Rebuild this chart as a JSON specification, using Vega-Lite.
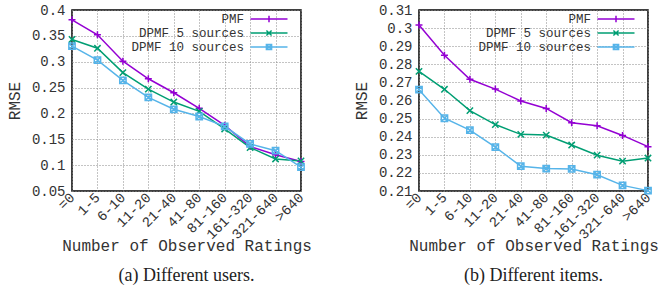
{
  "$schema": "https://vega.github.io/schema/vega-lite/v6.json",
  "padding": {"left": 5, "top": 2, "right": 5, "bottom": 0},
  "background": "white",
  "datasets": {
    "users": [
      {"bin": "=0", "method": "PMF", "rmse": 0.381},
      {"bin": "1-5", "method": "PMF", "rmse": 0.352},
      {"bin": "6-10", "method": "PMF", "rmse": 0.301},
      {"bin": "11-20", "method": "PMF", "rmse": 0.267},
      {"bin": "21-40", "method": "PMF", "rmse": 0.240},
      {"bin": "41-80", "method": "PMF", "rmse": 0.210},
      {"bin": "81-160", "method": "PMF", "rmse": 0.177},
      {"bin": "161-320", "method": "PMF", "rmse": 0.136},
      {"bin": "321-640", "method": "PMF", "rmse": 0.120},
      {"bin": ">640", "method": "PMF", "rmse": 0.107},
      {"bin": "=0", "method": "DPMF 5 sources", "rmse": 0.343},
      {"bin": "1-5", "method": "DPMF 5 sources", "rmse": 0.326},
      {"bin": "6-10", "method": "DPMF 5 sources", "rmse": 0.279},
      {"bin": "11-20", "method": "DPMF 5 sources", "rmse": 0.247},
      {"bin": "21-40", "method": "DPMF 5 sources", "rmse": 0.222},
      {"bin": "41-80", "method": "DPMF 5 sources", "rmse": 0.204},
      {"bin": "81-160", "method": "DPMF 5 sources", "rmse": 0.170},
      {"bin": "161-320", "method": "DPMF 5 sources", "rmse": 0.134},
      {"bin": "321-640", "method": "DPMF 5 sources", "rmse": 0.112},
      {"bin": ">640", "method": "DPMF 5 sources", "rmse": 0.108},
      {"bin": "=0", "method": "DPMF 10 sources", "rmse": 0.330},
      {"bin": "1-5", "method": "DPMF 10 sources", "rmse": 0.303},
      {"bin": "6-10", "method": "DPMF 10 sources", "rmse": 0.264},
      {"bin": "11-20", "method": "DPMF 10 sources", "rmse": 0.231},
      {"bin": "21-40", "method": "DPMF 10 sources", "rmse": 0.208},
      {"bin": "41-80", "method": "DPMF 10 sources", "rmse": 0.194},
      {"bin": "81-160", "method": "DPMF 10 sources", "rmse": 0.175},
      {"bin": "161-320", "method": "DPMF 10 sources", "rmse": 0.141},
      {"bin": "321-640", "method": "DPMF 10 sources", "rmse": 0.128},
      {"bin": ">640", "method": "DPMF 10 sources", "rmse": 0.096}
    ],
    "items": [
      {"bin": "=0", "method": "PMF", "rmse": 0.3017},
      {"bin": "1-5", "method": "PMF", "rmse": 0.2850},
      {"bin": "6-10", "method": "PMF", "rmse": 0.2717},
      {"bin": "11-20", "method": "PMF", "rmse": 0.2663},
      {"bin": "21-40", "method": "PMF", "rmse": 0.2597},
      {"bin": "41-80", "method": "PMF", "rmse": 0.2556},
      {"bin": "81-160", "method": "PMF", "rmse": 0.2477},
      {"bin": "161-320", "method": "PMF", "rmse": 0.2460},
      {"bin": "321-640", "method": "PMF", "rmse": 0.2407},
      {"bin": ">640", "method": "PMF", "rmse": 0.2345},
      {"bin": "=0", "method": "DPMF 5 sources", "rmse": 0.2761},
      {"bin": "1-5", "method": "DPMF 5 sources", "rmse": 0.2662},
      {"bin": "6-10", "method": "DPMF 5 sources", "rmse": 0.2544},
      {"bin": "11-20", "method": "DPMF 5 sources", "rmse": 0.2467},
      {"bin": "21-40", "method": "DPMF 5 sources", "rmse": 0.2413},
      {"bin": "41-80", "method": "DPMF 5 sources", "rmse": 0.2409},
      {"bin": "81-160", "method": "DPMF 5 sources", "rmse": 0.2354},
      {"bin": "161-320", "method": "DPMF 5 sources", "rmse": 0.2298},
      {"bin": "321-640", "method": "DPMF 5 sources", "rmse": 0.2265},
      {"bin": ">640", "method": "DPMF 5 sources", "rmse": 0.2282},
      {"bin": "=0", "method": "DPMF 10 sources", "rmse": 0.2660},
      {"bin": "1-5", "method": "DPMF 10 sources", "rmse": 0.2502},
      {"bin": "6-10", "method": "DPMF 10 sources", "rmse": 0.2436},
      {"bin": "11-20", "method": "DPMF 10 sources", "rmse": 0.2342},
      {"bin": "21-40", "method": "DPMF 10 sources", "rmse": 0.2237},
      {"bin": "41-80", "method": "DPMF 10 sources", "rmse": 0.2224},
      {"bin": "81-160", "method": "DPMF 10 sources", "rmse": 0.2222},
      {"bin": "161-320", "method": "DPMF 10 sources", "rmse": 0.2190},
      {"bin": "321-640", "method": "DPMF 10 sources", "rmse": 0.2131},
      {"bin": ">640", "method": "DPMF 10 sources", "rmse": 0.2102}
    ]
  },
  "config": {
    "view": {"stroke": "black", "strokeWidth": 1.5},
    "font": "Liberation Mono",
    "axis": {
      "labelFont": "Liberation Mono",
      "labelFontSize": 14,
      "labelColor": "#333",
      "titleFont": "Liberation Mono",
      "titleFontSize": 16,
      "titleFontWeight": "normal",
      "titleColor": "#333",
      "ticks": false,
      "domain": false,
      "grid": true,
      "gridColor": "#888",
      "gridDash": [1, 2],
      "gridWidth": 1
    },
    "legend": {
      "labelFont": "Liberation Mono",
      "labelFontSize": 12.5,
      "labelColor": "#333",
      "padding": 0,
      "rowPadding": 0
    },
    "title": {"font": "Liberation Serif", "fontSize": 18, "fontWeight": "normal", "color": "#222", "orient": "bottom", "offset": 13}
  },
  "spacing": 39,
  "hconcat": [
    {
      "width": 229,
      "height": 181,
      "title": {"text": "(a) Different users."},
      "data": {"name": "users"},
      "encoding": {
        "x": {"field": "bin", "type": "ordinal", "sort": null,
              "scale": {"type": "point", "padding": 0},
              "axis": {"title": "Number of Observed Ratings", "labelAngle": -45, "labelAlign": "right", "labelBaseline": "middle", "labelPadding": 4, "titlePadding": -4}},
        "y": {"field": "rmse", "type": "quantitative",
              "scale": {"domain": [0.05, 0.4], "nice": false, "zero": false},
              "axis": {"title": "RMSE", "values": [0.05, 0.1, 0.15, 0.2, 0.25, 0.3, 0.35, 0.4], "format": "~g", "labelPadding": 7, "titlePadding": 9}}
      },
      "layer": [
        {"mark": {"type": "line", "strokeWidth": 1.5},
         "encoding": {"color": {"field": "method", "type": "nominal",
                  "scale": {"domain": ["PMF", "DPMF 5 sources", "DPMF 10 sources"], "range": ["#9400d3", "#009e73", "#56b4e9"]},
                  "legend": {"title": null, "orient": "none", "legendX": 54, "legendY": 2,
                             "symbolSize": 1369, "symbolStrokeWidth": 1.5,
                             "encode": {
                               "symbols": {"update": {
                                 "shape": {"signal": "datum.value === 'PMF' ? 'M-1,0L1,0M0,-0.17L0,0.17' : datum.value === 'DPMF 5 sources' ? 'M-1,0L1,0M-0.14,-0.14L0.14,0.14M-0.14,0.14L0.14,-0.14' : 'M-1,0L1,0M-0.14,-0.14L0.14,-0.14L0.14,0.14L-0.14,0.14ZM-0.14,-0.14L0.14,0.14M-0.14,0.14L0.14,-0.14'"},
                                 "fill": {"value": "transparent"},
                                 "x": {"value": 143},
                                 "y": {"value": 7}
                               }},
                               "labels": {"update": {"x": {"value": 118}, "y": {"value": 7}, "align": {"value": "right"}, "baseline": {"value": "middle"}}}
                             }}}}},
        {"transform": [{"filter": "datum.method === 'PMF'"}],
         "mark": {"type": "point", "filled": false, "strokeWidth": 1.5, "size": 49, "opacity": 1, "color": "#9400d3", "shape": "M-1,0L1,0M0,-1L0,1"}},
        {"transform": [{"filter": "datum.method === 'DPMF 5 sources'"}],
         "mark": {"type": "point", "filled": false, "strokeWidth": 1.5, "size": 40, "opacity": 1, "color": "#009e73", "shape": "M-1,-1L1,1M-1,1L1,-1"}},
        {"transform": [{"filter": "datum.method === 'DPMF 10 sources'"}],
         "mark": {"type": "point", "filled": false, "strokeWidth": 1.5, "size": 40, "opacity": 1, "color": "#56b4e9", "shape": "M-1,-1L1,-1L1,1L-1,1ZM-1,-1L1,1M-1,1L1,-1"}}
      ]
    },
    {
      "width": 229,
      "height": 181,
      "title": {"text": "(b) Different items."},
      "data": {"name": "items"},
      "encoding": {
        "x": {"field": "bin", "type": "ordinal", "sort": null,
              "scale": {"type": "point", "padding": 0},
              "axis": {"title": "Number of Observed Ratings", "labelAngle": -45, "labelAlign": "right", "labelBaseline": "middle", "labelPadding": 4, "titlePadding": -4}},
        "y": {"field": "rmse", "type": "quantitative",
              "scale": {"domain": [0.21, 0.31], "nice": false, "zero": false},
              "axis": {"title": "RMSE", "values": [0.21, 0.22, 0.23, 0.24, 0.25, 0.26, 0.27, 0.28, 0.29, 0.3, 0.31], "format": "~g", "labelPadding": 7, "titlePadding": 9}}
      },
      "layer": [
        {"mark": {"type": "line", "strokeWidth": 1.5},
         "encoding": {"color": {"field": "method", "type": "nominal",
                  "scale": {"domain": ["PMF", "DPMF 5 sources", "DPMF 10 sources"], "range": ["#9400d3", "#009e73", "#56b4e9"]},
                  "legend": {"title": null, "orient": "none", "legendX": 54, "legendY": 2,
                             "symbolSize": 1369, "symbolStrokeWidth": 1.5,
                             "encode": {
                               "symbols": {"update": {
                                 "shape": {"signal": "datum.value === 'PMF' ? 'M-1,0L1,0M0,-0.17L0,0.17' : datum.value === 'DPMF 5 sources' ? 'M-1,0L1,0M-0.14,-0.14L0.14,0.14M-0.14,0.14L0.14,-0.14' : 'M-1,0L1,0M-0.14,-0.14L0.14,-0.14L0.14,0.14L-0.14,0.14ZM-0.14,-0.14L0.14,0.14M-0.14,0.14L0.14,-0.14'"},
                                 "fill": {"value": "transparent"},
                                 "x": {"value": 143},
                                 "y": {"value": 7}
                               }},
                               "labels": {"update": {"x": {"value": 118}, "y": {"value": 7}, "align": {"value": "right"}, "baseline": {"value": "middle"}}}
                             }}}}},
        {"transform": [{"filter": "datum.method === 'PMF'"}],
         "mark": {"type": "point", "filled": false, "strokeWidth": 1.5, "size": 49, "opacity": 1, "color": "#9400d3", "shape": "M-1,0L1,0M0,-1L0,1"}},
        {"transform": [{"filter": "datum.method === 'DPMF 5 sources'"}],
         "mark": {"type": "point", "filled": false, "strokeWidth": 1.5, "size": 40, "opacity": 1, "color": "#009e73", "shape": "M-1,-1L1,1M-1,1L1,-1"}},
        {"transform": [{"filter": "datum.method === 'DPMF 10 sources'"}],
         "mark": {"type": "point", "filled": false, "strokeWidth": 1.5, "size": 40, "opacity": 1, "color": "#56b4e9", "shape": "M-1,-1L1,-1L1,1L-1,1ZM-1,-1L1,1M-1,1L1,-1"}}
      ]
    }
  ],
  "resolve": {"scale": {"color": "independent"}, "legend": {"color": "independent"}}
}
